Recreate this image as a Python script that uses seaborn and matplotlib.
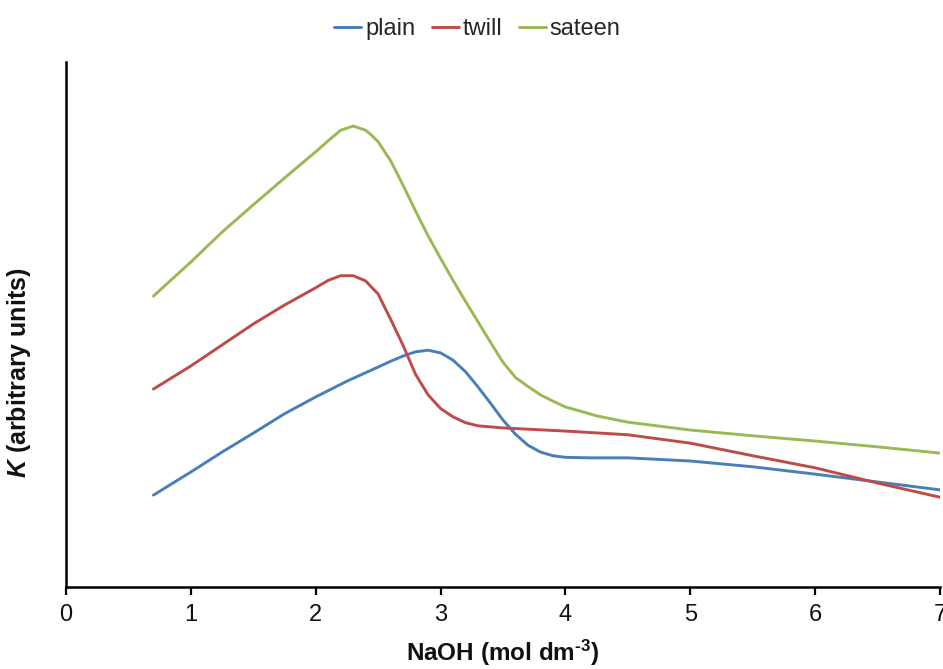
import matplotlib
matplotlib.use("Agg")
import matplotlib.pyplot as plt
import seaborn as sns
import pandas as pd

# ---- data (K in arbitrary units) ----
plain_x = [0.70, 1.00, 1.25, 1.50, 1.75, 2.00, 2.25, 2.50, 2.60, 2.70, 2.80, 2.90, 3.00, 3.10, 3.20,
           3.30, 3.40, 3.50, 3.60, 3.70, 3.80, 3.90, 4.00, 4.20, 4.50, 5.00, 5.50, 6.00, 6.50, 7.00]
plain_y = [17.5, 21.9, 25.7, 29.3, 33.0, 36.2, 39.2, 41.9, 43.0, 44.0, 44.8, 45.1, 44.6, 43.2, 41.0,
           38.1, 35.0, 31.8, 29.1, 27.0, 25.7, 25.0, 24.7, 24.6, 24.6, 24.0, 22.9, 21.5, 20.0, 18.5]

twill_x = [0.70, 1.00, 1.25, 1.50, 1.75, 2.00, 2.10, 2.20, 2.30, 2.40, 2.50, 2.60, 2.70, 2.80, 2.90,
           3.00, 3.10, 3.20, 3.30, 3.50, 4.00, 4.50, 5.00, 5.50, 6.00, 6.50, 7.00]
twill_y = [37.7, 42.1, 46.1, 50.1, 53.7, 57.0, 58.4, 59.3, 59.3, 58.3, 55.8, 51.0, 46.0, 40.5, 36.6,
           34.0, 32.4, 31.3, 30.7, 30.3, 29.7, 29.0, 27.4, 25.0, 22.7, 19.8, 17.1]

sateen_x = [0.70, 1.00, 1.25, 1.50, 1.75, 2.00, 2.10, 2.20, 2.30, 2.40, 2.45, 2.50, 2.60, 2.70, 2.80,
            2.90, 3.00, 3.10, 3.20, 3.30, 3.40, 3.50, 3.60, 3.70, 3.80, 3.90, 4.00, 4.25, 4.50, 5.00,
            5.50, 6.00, 6.50, 7.00]
sateen_y = [55.4, 61.9, 67.6, 72.8, 77.9, 82.9, 85.0, 87.0, 87.8, 87.0, 86.0, 84.8, 81.2, 76.5, 71.6,
            66.9, 62.6, 58.4, 54.4, 50.5, 46.6, 42.8, 39.9, 38.2, 36.6, 35.4, 34.3, 32.6, 31.4, 29.9,
            28.8, 27.8, 26.7, 25.5]

series_names = ["plain", "twill", "sateen"]
colors = {"plain": "#4a7ebb", "twill": "#be4b48", "sateen": "#98b954"}

df = pd.concat([
    pd.DataFrame({"NaOH": plain_x, "K": plain_y, "fabric": "plain"}),
    pd.DataFrame({"NaOH": twill_x, "K": twill_y, "fabric": "twill"}),
    pd.DataFrame({"NaOH": sateen_x, "K": sateen_y, "fabric": "sateen"}),
], ignore_index=True)

sns.set_theme(style="white")
plt.rcParams["font.family"] = ["Liberation Sans", "DejaVu Sans"]
plt.rcParams["mathtext.fontset"] = "custom"
plt.rcParams["mathtext.rm"] = "Liberation Sans:bold"
plt.rcParams["mathtext.it"] = "Liberation Sans:italic:bold"
plt.rcParams["mathtext.bf"] = "Liberation Sans:bold"

fig = plt.figure(figsize=(9.43, 6.69), dpi=100)
ax = fig.add_axes([66 / 943, 1 - 587 / 669, (940 - 66) / 943, (587 - 62) / 669])

sns.lineplot(data=df, x="NaOH", y="K", hue="fabric", hue_order=series_names,
             palette=colors, linewidth=2.1, sort=False, ax=ax)

ax.set_xlim(0, 7)
ax.set_ylim(0, 100)
ax.set_xticks(range(0, 8))
ax.set_xticklabels([str(i) for i in range(0, 8)])
ax.set_yticks([])
for side in ["top", "right"]:
    ax.spines[side].set_visible(False)
for side in ["left", "bottom"]:
    ax.spines[side].set_color("black")
    ax.spines[side].set_linewidth(1.8)
ax.tick_params(axis="x", direction="out", length=6, width=1.6, color="black",
               labelsize=17, pad=6.5, bottom=True, labelcolor="#111111")

ax.set_xlabel(r"NaOH (mol dm$^{\text{-3}}$)", fontsize=17.5, fontweight="bold", color="#111111")
ax.xaxis.set_label_coords(0.5, -0.097)
ax.set_ylabel(r"$\mathit{K}$ (arbitrary units)", fontsize=18, fontweight="bold", color="#111111")
ax.yaxis.set_label_coords(-0.038, 0.408)

sns.move_legend(ax, "center", bbox_to_anchor=(0.4705, 1.062), ncol=3, frameon=False,
                title=None, fontsize=17, handlelength=1.15, handletextpad=0.15,
                columnspacing=0.7, borderpad=0.0)

fig.savefig("out.png", dpi=100)
